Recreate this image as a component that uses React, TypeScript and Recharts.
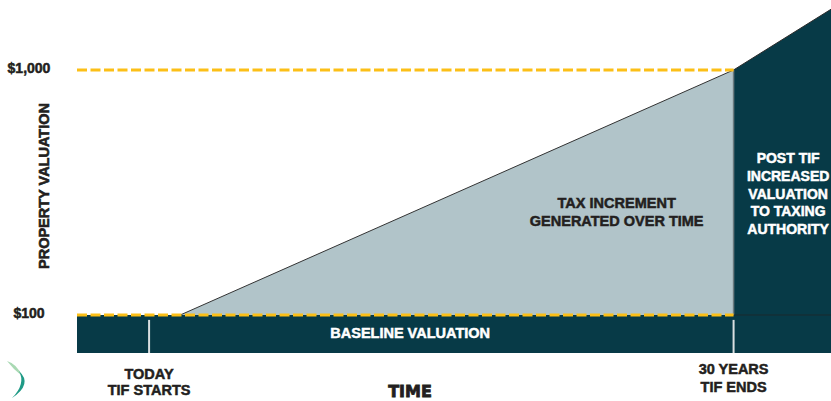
import {
  ComposedChart,
  Area,
  XAxis,
  YAxis,
  ReferenceArea,
  ReferenceLine,
  ReferenceDot,
} from "recharts";

// time axis in years, value axis in dollars
const timeMin = -3.7;
const timeMax = 35;
const valueMin = -39.6;
const valueMax = 1257;

const baselineValue = 100;
const targetValue = 1000;
const tifEnd = 30;

const years = [1.6, 30, 35];
const incrementValues = [100, 1000, null];
const postTifValues = [null, 1000, 1223];

const valueTicks = [100, 1000];
const valueTickLabels = ["$100", "$1,000"];
const timeTicks = [0, 30];
const timeTickLabels = [
  ["TODAY", "TIF STARTS"],
  ["30 YEARS", "TIF ENDS"],
];

const incrementText = ["TAX INCREMENT", "GENERATED OVER TIME"];
const postTifText = ["POST TIF", "INCREASED", "VALUATION", "TO TAXING", "AUTHORITY"];

const data = years.map((t, i) => ({
  t,
  increment: incrementValues[i],
  post: postTifValues[i],
}));

const DARK = "#073a47";
const LIGHT = "#b1c4c9";
const GOLD = "#fcbf17";
const INK = "#231f20";
const FONT = "'Liberation Sans', Arial, sans-serif";

function TextBlock({ viewBox, lines, color, size, gap }: any) {
  const cx = viewBox.x + (viewBox.width || 0) / 2;
  const cy = viewBox.y + (viewBox.height || 0) / 2;
  const start = cy - ((lines.length - 1) * gap) / 2 + size * 0.36;
  return (
    <text
      textAnchor="middle"
      fill={color}
      stroke={color}
      strokeWidth={0.5}
      fontSize={size}
      fontWeight="bold"
      fontFamily={FONT}
    >
      {lines.map((l: string, i: number) => (
        <tspan key={i} x={cx} y={start + i * gap}>
          {l}
        </tspan>
      ))}
    </text>
  );
}

function ValueTick({ y, payload }: any) {
  const i = valueTicks.indexOf(payload.value);
  return (
    <text
      x={29}
      y={y + 3}
      textAnchor="middle"
      fontSize={14}
      fontWeight="bold"
      fontFamily={FONT}
      fill={INK}
      stroke={INK}
      strokeWidth={0.5}
    >
      {valueTickLabels[i]}
    </text>
  );
}

function TimeTick({ x, y, payload }: any) {
  const i = timeTicks.indexOf(payload.value);
  const offs = i === 0 ? [18, 34] : [13, 31];
  return (
    <text
      textAnchor="middle"
      fontSize={14.5}
      fontWeight="bold"
      fontFamily={FONT}
      fill={INK}
      stroke={INK}
      strokeWidth={0.5}
    >
      {timeTickLabels[i].map((l, k) => (
        <tspan key={k} x={x} y={y + offs[k]}>
          {l}
        </tspan>
      ))}
    </text>
  );
}

function ValueTitle() {
  return (
    <text
      x={49}
      y={186}
      transform="rotate(-90 49 186)"
      textAnchor="middle"
      fontSize={14.5}
      fontWeight="bold"
      fontFamily={FONT}
      fill={INK}
      stroke={INK}
      strokeWidth={0.6}
    >
      PROPERTY VALUATION
    </text>
  );
}

function TimeTitle() {
  return (
    <text
      x={410}
      y={397}
      textAnchor="middle"
      fontSize={16}
      fontWeight="bold"
      fontFamily="'DejaVu Sans', sans-serif"
      fill={INK}
      stroke={INK}
      strokeWidth={0.8}
    >
      TIME
    </text>
  );
}

export default function App() {
  return (
    <div style={{ position: "absolute", left: 0, top: 0, width: 831, height: 401, background: "#fff" }}>
      <ComposedChart width={831} height={401} data={data} margin={{ top: 0, right: 0, bottom: 0, left: 0 }}>
        <XAxis
          dataKey="t"
          type="number"
          domain={[timeMin, timeMax]}
          allowDataOverflow
          ticks={timeTicks}
          tick={<TimeTick />}
          tickLine={false}
          axisLine={false}
          height={48}
          label={<TimeTitle />}
        />
        <YAxis
          type="number"
          domain={[valueMin, valueMax]}
          allowDataOverflow
          ticks={valueTicks}
          tick={<ValueTick />}
          tickLine={false}
          axisLine={false}
          width={77}
          label={<ValueTitle />}
        />
        {/* baseline band */}
        <ReferenceArea
          x1={timeMin}
          x2={timeMax}
          y1={valueMin}
          y2={baselineValue}
          fill={DARK}
          fillOpacity={1}
          stroke="none"
          ifOverflow="visible"
        />
        <Area
          dataKey="increment"
          type="linear"
          baseValue={baselineValue}
          fill={LIGHT}
          fillOpacity={1}
          stroke="#333"
          strokeWidth={1}
          isAnimationActive={false}
          dot={false}
          activeDot={false}
        />
        <Area
          dataKey="post"
          type="linear"
          baseValue={valueMin}
          fill={DARK}
          fillOpacity={1}
          stroke="#2a2a2a"
          strokeWidth={1}
          isAnimationActive={false}
          dot={false}
          activeDot={false}
        />
        <ReferenceLine
          segment={[
            { x: tifEnd, y: baselineValue },
            { x: tifEnd, y: targetValue },
          ]}
          stroke="#6b7a7e"
          strokeWidth={1.5}
          ifOverflow="visible"
        />
        <ReferenceLine
          segment={[
            { x: tifEnd, y: baselineValue },
            { x: timeMax, y: baselineValue },
          ]}
          stroke="#1b2a2e"
          strokeWidth={1}
          ifOverflow="visible"
        />
        {timeTicks.map((t) => (
          <ReferenceLine
            key={t}
            segment={[
              { x: t, y: 82 },
              { x: t, y: valueMin },
            ]}
            stroke="#d9dfe1"
            strokeWidth={2}
            ifOverflow="visible"
          />
        ))}
        <ReferenceLine
          segment={[
            { x: timeMin, y: targetValue },
            { x: tifEnd, y: targetValue },
          ]}
          stroke={GOLD}
          strokeWidth={3}
          strokeDasharray="10 3.5"
          ifOverflow="visible"
        />
        <ReferenceLine
          segment={[
            { x: timeMin, y: baselineValue },
            { x: tifEnd, y: baselineValue },
          ]}
          stroke={GOLD}
          strokeWidth={3}
          strokeDasharray="10 3.5"
          ifOverflow="visible"
        />
        <ReferenceDot
          x={24}
          y={480}
          r={0}
          fill="none"
          stroke="none"
          label={<TextBlock lines={incrementText} color={INK} size={14.5} gap={18} />}
        />
        <ReferenceDot
          x={32.8}
          y={546}
          r={0}
          fill="none"
          stroke="none"
          label={<TextBlock lines={postTifText} color="#fff" size={14} gap={17.8} />}
        />
        <ReferenceDot
          x={13.4}
          y={34}
          r={0}
          fill="none"
          stroke="none"
          label={<TextBlock lines={["BASELINE VALUATION"]} color="#fff" size={14.5} gap={18} />}
        />
      </ComposedChart>
      <svg width={40} height={51} style={{ position: "absolute", left: 0, top: 350 }}>
        <path d="M7 11 Q17 14 22 26 Q14 20 7 11 Z" fill="#a9d9b3" />
        <path d="M19 21 Q33 34 12 48 Q26 34 19 21 Z" fill="#1f9a86" />
      </svg>
    </div>
  );
}
